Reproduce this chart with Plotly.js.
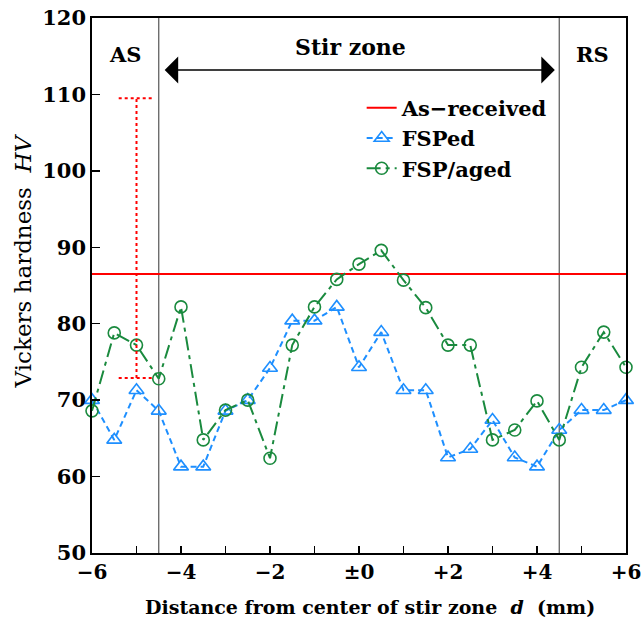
<!DOCTYPE html>
<html>
<head>
<meta charset="utf-8">
<script src="https://cdn.plot.ly/plotly-3.0.1.min.js"></script>
<style>html,body{margin:0;padding:0;background:#fff;}#chart{width:643px;height:628px;}</style>
</head>
<body>
<div id="chart"></div>
<script>
// ---- data ----
const distance = [-6, -5.5, -5, -4.5, -4, -3.5, -3, -2.5, -2, -1.5, -1, -0.5, 0, 0.5, 1, 1.5, 2, 2.5, 3, 3.5, 4, 4.5, 5, 5.5, 6];
const fsped = [70.0, 64.8, 71.3, 68.6, 61.3, 61.3, 68.6, 70.0, 74.2, 80.4, 80.4, 82.2, 74.3, 78.9, 71.3, 71.3, 62.5, 63.6, 67.4, 62.5, 61.3, 66.1, 68.7, 68.7, 70.0];
const fspAged = [68.6, 78.8, 77.2, 72.8, 82.2, 64.8, 68.7, 70.0, 62.4, 77.2, 82.2, 85.8, 87.8, 89.6, 85.7, 82.1, 77.2, 77.2, 64.8, 66.1, 69.9, 64.8, 74.3, 78.9, 74.3];
const asReceived = 86.5;
const asReceivedRangeX = -5;
const asReceivedRange = [72.9, 109.5];
const zoneBounds = [-4.5, 4.5];
const xRange = [-6, 6];
const yRange = [50, 120];
const xTickVals = [-6, -5, -4, -3, -2, -1, 0, 1, 2, 3, 4, 5, 6];
const xTickText = ['\u22126', '', '\u22124', '', '\u22122', '', '\u00b10', '', '+2', '', '+4', '', '+6'];
const yTickVals = [50, 60, 70, 80, 90, 100, 110, 120];
const seriesNames = ['As\u2212received', 'FSPed', 'FSP/aged'];
const regionLabels = ['AS', 'Stir zone', 'RS'];

const FONT = 'DejaVu Serif, Liberation Serif, serif';
const capHalf = 0.4;

const traces = [
  {
    x: xRange, y: [asReceived, asReceived], name: seriesNames[0], mode: 'lines',
    line: {color: '#ff0000', width: 2}
  },
  {
    x: distance, y: fsped, name: seriesNames[1], mode: 'lines+markers', cliponaxis: false,
    line: {color: '#1e8fff', width: 2, dash: '6px,4px'},
    marker: {symbol: 'triangle-up-open', size: 13, color: '#1e8fff', line: {width: 1.6, color: '#1e8fff'}}
  },
  {
    x: distance, y: fspAged, name: seriesNames[2], mode: 'lines+markers', cliponaxis: false,
    line: {color: '#1a8a3e', width: 2, dash: '14px,5px,4px,5px'},
    marker: {symbol: 'circle-open', size: 12, color: '#1a8a3e', line: {width: 1.6, color: '#1a8a3e'}}
  },
  {
    x: [asReceivedRangeX - capHalf, asReceivedRangeX + capHalf, null, asReceivedRangeX, asReceivedRangeX, null, asReceivedRangeX - capHalf, asReceivedRangeX + capHalf],
    y: [asReceivedRange[1], asReceivedRange[1], null, asReceivedRange[0], asReceivedRange[1], null, asReceivedRange[0], asReceivedRange[0]],
    mode: 'lines', showlegend: false, hoverinfo: 'skip',
    line: {color: '#ff0000', width: 2, dash: 'dot'}
  }
];

const shapes = zoneBounds.map(b => ({
  type: 'line', xref: 'x', yref: 'paper', x0: b, x1: b, y0: 0, y1: 1,
  line: {color: '#555555', width: 1.2}, layer: 'below'
}));

const annotations = [
  {x: -5.25, y: 115.2, xref: 'x', yref: 'y', text: '<b>' + regionLabels[0] + '</b>', showarrow: false,
   font: {family: FONT, size: 21, color: '#000'}},
  {x: -0.2, y: 116.2, xref: 'x', yref: 'y', text: '<b>' + regionLabels[1] + '</b>', showarrow: false,
   font: {family: FONT, size: 22, color: '#000'}},
  {x: 5.25, y: 115.2, xref: 'x', yref: 'y', text: '<b>' + regionLabels[2] + '</b>', showarrow: false,
   font: {family: FONT, size: 21, color: '#000'}},
  {x: 4.4, y: 113.2, ax: -4.4, ay: 113.2, xref: 'x', yref: 'y', axref: 'x', ayref: 'y', text: '',
   showarrow: true, arrowside: 'end+start', arrowhead: 1, arrowsize: 3, arrowwidth: 1.5, arrowcolor: '#000', standoff: 0, startstandoff: 0},
  {xref: 'paper', yref: 'paper', x: -0.13, y: 0.546, xanchor: 'center', yanchor: 'middle', textangle: -90,
   text: 'Vickers hardness  <i>HV</i>', showarrow: false, font: {family: FONT, size: 23, color: '#000000'}},
  {xref: 'paper', yref: 'paper', x: 0.52, y: -0.101, xanchor: 'center', yanchor: 'middle',
   text: '<b>Distance from center of stir zone  <i>d</i>  (mm)</b>', showarrow: false, font: {family: FONT, size: 19, color: '#000'}}
];

const layout = {
  width: 643, height: 628,
  margin: {l: 92, r: 17, t: 18, b: 75},
  paper_bgcolor: '#fff', plot_bgcolor: '#fff',
  showlegend: true,
  legend: {x: 0.505, y: 0.87, xanchor: 'left', yanchor: 'top', bgcolor: 'rgba(0,0,0,0)',
           font: {family: FONT, size: 21, color: '#000', weight: 'bold'}},
  xaxis: {range: xRange, tickmode: 'array', tickvals: xTickVals, ticktext: xTickText,
          ticks: 'inside', ticklen: 7, tickwidth: 1.5, tickcolor: '#000', ticklabeloverflow: 'allow',
          showline: true, linecolor: '#000', linewidth: 1.8, mirror: true, showgrid: false, zeroline: false,
          tickfont: {family: FONT, size: 20, color: '#000', weight: 'bold'}},
  yaxis: {range: yRange, tickmode: 'array', tickvals: yTickVals,
          ticks: 'inside', ticklen: 8, tickwidth: 1.5, tickcolor: '#000', ticklabelstandoff: 0,
          showline: true, linecolor: '#000', linewidth: 1.8, mirror: true, showgrid: false, zeroline: false,
          tickfont: {family: FONT, size: 21, color: '#000', weight: 'bold'}},
  shapes: shapes,
  annotations: annotations
};

Plotly.newPlot('chart', traces, layout, {displayModeBar: false, staticPlot: true});
</script>
</body>
</html>
